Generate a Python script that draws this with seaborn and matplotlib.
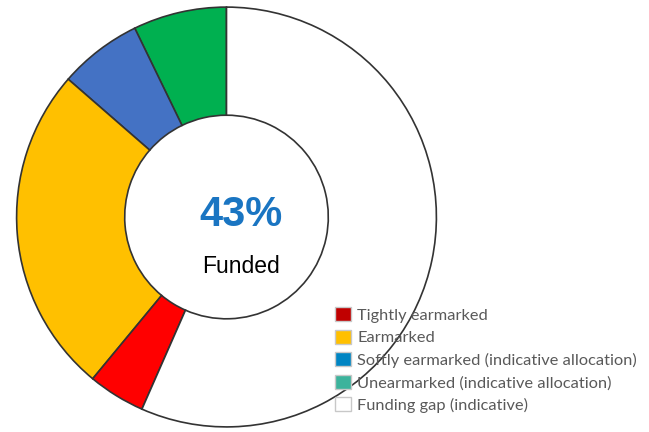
import matplotlib
matplotlib.use("Agg")
import matplotlib.pyplot as plt
import seaborn as sns
from matplotlib.patches import Patch

# Funding shares (%), counter-clockwise from 12 o'clock
slice_labels = ["Unearmarked", "Softly earmarked", "Earmarked", "Tightly earmarked", "Funding gap"]
slice_values = [7.2, 6.4, 25.4, 4.4, 56.6]
slice_colors = ["#00B050", "#4472C4", "#FFC000", "#FF0000", "#FFFFFF"]

legend_labels = [
    "Tightly earmarked",
    "Earmarked",
    "Softly earmarked (indicative allocation)",
    "Unearmarked (indicative allocation)",
    "Funding gap (indicative)",
]
legend_colors = ["#C00000", "#FFC000", "#0085C3", "#3CB39C", "#FFFFFF"]

funded_pct = "43%"

sns.set_theme(style="white")

fig = plt.figure(figsize=(6.49, 4.32), dpi=100)
ax = fig.add_axes([14.5 / 649, 3 / 432, 424 / 649, 424 / 432])

ax.pie(slice_values, colors=slice_colors, startangle=90, counterclock=True,
       radius=1.0,
       wedgeprops=dict(width=0.515, edgecolor="#333333", linewidth=1.2))
ax.set_xlim(-1.01, 1.01)
ax.set_ylim(-1.01, 1.01)
ax.set_aspect("equal")
ax.axis("off")

ax.text(0.068, 0.01, funded_pct, ha="center", va="center", fontsize=30,
        fontweight="bold", color="#1A75C2", family="Liberation Sans")
ax.text(0.068, -0.235, "Funded", ha="center", va="center", fontsize=16.5,
        color="black", family="Liberation Sans")

handles = [Patch(facecolor=c, edgecolor="#C8C8C8", linewidth=1.0) for c in legend_colors]
leg = fig.legend(handles, legend_labels, loc="upper left",
                 bbox_to_anchor=(335 / 649, 1 - 307 / 432), frameon=False,
                 borderaxespad=0, borderpad=0, handlelength=0.95, handleheight=0.95,
                 handletextpad=0.4, labelspacing=0.42,
                 prop={"family": "Lato", "size": 11.8})
for t in leg.get_texts():
    t.set_color("#595959")

fig.savefig("out.png", dpi=100)
